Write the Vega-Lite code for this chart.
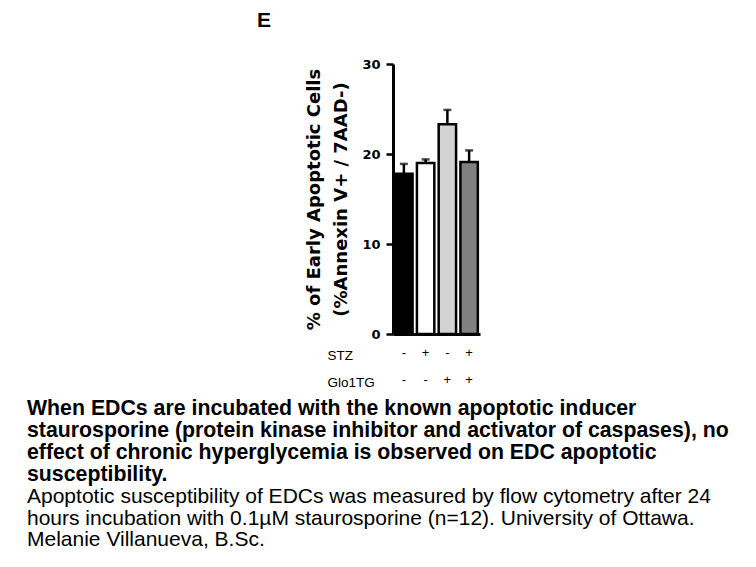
{
  "$schema": "https://vega.github.io/schema/vega-lite/v6.json",
  "padding": {"left": 27, "top": 10, "right": 5, "bottom": 5},
  "background": "white",
  "config": {"view": {"stroke": null}, "font": "Liberation Sans"},
  "datasets": {
    "groups": [
      {"condition": "Control", "STZ": "-", "Glo1TG": "-", "mean": 17.8, "upper": 18.9},
      {"condition": "STZ", "STZ": "+", "Glo1TG": "-", "mean": 19.0, "upper": 19.4},
      {"condition": "Glo1TG", "STZ": "-", "Glo1TG": "+", "mean": 23.3, "upper": 24.9},
      {"condition": "STZ + Glo1TG", "STZ": "+", "Glo1TG": "+", "mean": 19.1, "upper": 20.4}
    ]
  },
  "bounds": "flush",
  "spacing": 5,
  "title": {
    "text": [
      "When EDCs are incubated with the known apoptotic inducer",
      "staurosporine (protein kinase inhibitor and activator of caspases), no",
      "effect of chronic hyperglycemia is observed on EDC apoptotic",
      "susceptibility."
    ],
    "subtitle": [
      "Apoptotic susceptibility of EDCs was measured by flow cytometry after 24",
      "hours incubation with 0.1µM staurosporine (n=12). University of Ottawa.",
      "Melanie Villanueva, B.Sc."
    ],
    "orient": "bottom",
    "anchor": "start",
    "frame": "group",
    "dx": -366,
    "offset": 5,
    "font": "Liberation Sans",
    "fontSize": 21.3,
    "fontWeight": "bold",
    "lineHeight": 22,
    "color": "black",
    "subtitleFont": "Liberation Sans",
    "subtitleFontSize": 21,
    "subtitleLineHeight": 21.6,
    "subtitleColor": "black",
    "subtitlePadding": 1
  },
  "vconcat": [
    {
      "width": 87,
      "height": 270,
      "title": {
        "text": "E",
        "anchor": "start",
        "frame": "group",
        "dx": -136,
        "offset": 27,
        "font": "Liberation Sans",
        "fontSize": 21,
        "fontWeight": "bold",
        "color": "black"
      },
      "data": {"name": "groups"},
      "encoding": {
        "x": {
          "field": "condition",
          "type": "nominal",
          "sort": ["Control", "STZ", "Glo1TG", "STZ + Glo1TG"],
          "scale": {"paddingInner": 0.2, "paddingOuter": 0.1},
          "axis": {"title": null, "labels": false, "ticks": false, "domainWidth": 3, "domainColor": "black"}
        }
      },
      "layer": [
        {
          "mark": {"type": "bar", "stroke": "black", "strokeWidth": 2.5},
          "encoding": {
            "y": {
              "field": "mean",
              "type": "quantitative",
              "scale": {"domain": [0, 30]},
              "axis": {
                "title": ["% of Early Apoptotic Cells", "(%Annexin V+ / 7AAD-)"],
                "values": [0, 10, 20, 30],
                "grid": false,
                "tickSize": 7,
                "tickWidth": 2.5,
                "tickColor": "black",
                "domainWidth": 3,
                "domainColor": "black",
                "labelFont": "DejaVu Sans",
                "labelFontWeight": "bold",
                "labelFontSize": 13,
                "labelColor": "black",
                "labelPadding": 6,
                "titleFont": "DejaVu Sans",
                "titleFontSize": 18,
                "titleFontWeight": "bold",
                "titleLineHeight": 27,
                "titlePadding": 11,
                "titleColor": "black"
              }
            },
            "fill": {
              "field": "condition",
              "type": "nominal",
              "scale": {
                "domain": ["Control", "STZ", "Glo1TG", "STZ + Glo1TG"],
                "range": ["#000000", "#ffffff", "#d3d3d3", "#808080"]
              },
              "legend": null
            }
          }
        },
        {
          "mark": {"type": "rule", "strokeWidth": 2.5, "color": "black"},
          "encoding": {
            "y": {"field": "mean", "type": "quantitative"},
            "y2": {"field": "upper"}
          }
        },
        {
          "mark": {"type": "tick", "thickness": 2.5, "size": 8, "color": "black"},
          "encoding": {
            "y": {"field": "upper", "type": "quantitative"}
          }
        }
      ]
    },
    {
      "width": 87,
      "height": 54,
      "data": {"name": "groups"},
      "transform": [{"fold": ["STZ", "Glo1TG"], "as": ["row", "sign"]}],
      "mark": {"type": "text", "fontSize": 13, "font": "Liberation Sans", "color": "black"},
      "encoding": {
        "x": {
          "field": "condition",
          "type": "nominal",
          "sort": ["Control", "STZ", "Glo1TG", "STZ + Glo1TG"],
          "scale": {"paddingInner": 0.2, "paddingOuter": 0.1},
          "axis": null
        },
        "y": {
          "field": "row",
          "type": "nominal",
          "sort": ["STZ", "Glo1TG"],
          "axis": {
            "title": null,
            "domain": false,
            "ticks": false,
            "labelAlign": "left",
            "labelPadding": 66,
            "labelOffset": 3,
            "labelFontSize": 13.5,
            "labelColor": "black"
          }
        },
        "text": {"field": "sign"}
      }
    }
  ]
}
